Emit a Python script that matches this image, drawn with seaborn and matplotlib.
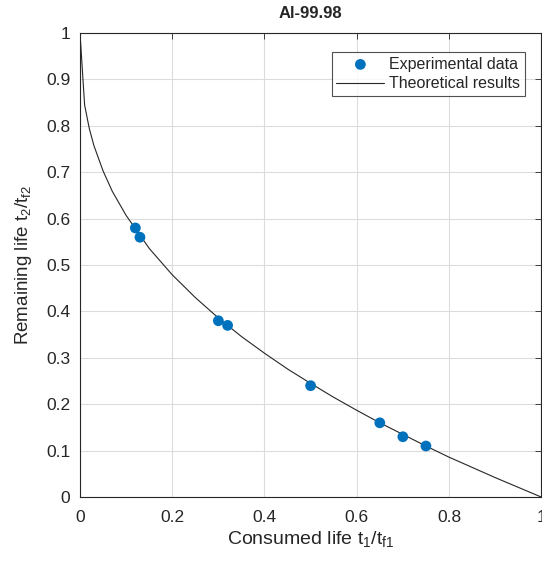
import matplotlib
matplotlib.use('Agg')
import matplotlib.pyplot as plt
import seaborn as sns
import numpy as np
import pandas as pd
from matplotlib.ticker import FuncFormatter

# experimental points
exp_x = [0.12, 0.13, 0.30, 0.32, 0.50, 0.65, 0.70, 0.75]
exp_y = [0.58, 0.56, 0.38, 0.37, 0.24, 0.16, 0.13, 0.11]

# theoretical curve
theo_x = [0.0, 0.01, 0.02, 0.03, 0.05, 0.07, 0.10, 0.15, 0.20, 0.25, 0.30, 0.35,
          0.40, 0.45, 0.50, 0.55, 0.60, 0.65, 0.70, 0.75, 0.80, 0.85, 0.90, 0.95, 1.0]
theo_y = [1.0, 0.845, 0.795, 0.758, 0.703, 0.659, 0.607, 0.536, 0.479, 0.430, 0.386, 0.346,
          0.310, 0.276, 0.245, 0.215, 0.187, 0.160, 0.135, 0.110, 0.086, 0.064, 0.042, 0.021, 0.0]

sns.set_style('white')
plt.rcParams['font.family'] = ['Liberation Sans', 'DejaVu Sans']
plt.rcParams['mathtext.fontset'] = 'custom'
plt.rcParams['mathtext.rm'] = 'Liberation Sans'
plt.rcParams['mathtext.it'] = 'Liberation Sans'
plt.rcParams['mathtext.default'] = 'regular'

fig = plt.figure(figsize=(5.42, 5.61), dpi=100)
ax = fig.add_axes([0.1476, 0.114, 0.851, 0.827])

df_exp = pd.DataFrame({'x': exp_x, 'y': exp_y})
df_theo = pd.DataFrame({'x': theo_x, 'y': theo_y})

sns.lineplot(data=df_theo, x='x', y='y', ax=ax, color='#262626', linewidth=0.8,
             sort=False, label='Theoretical results', zorder=2)
sns.scatterplot(data=df_exp, x='x', y='y', ax=ax, color='#0072BD', s=60,
                edgecolor='none', label='Experimental data', zorder=3)

ax.set_xlim(0, 1)
ax.set_ylim(0, 1)
ax.set_xticks(np.arange(0, 1.01, 0.2))
ax.set_yticks(np.arange(0, 1.01, 0.1))
ax.xaxis.set_major_formatter(FuncFormatter(lambda v, p: '%g' % round(v, 2)))
ax.yaxis.set_major_formatter(FuncFormatter(lambda v, p: '%g' % round(v, 2)))
ax.grid(True, color='#dcdcdc', linewidth=0.8)
ax.set_axisbelow(True)
ax.tick_params(direction='in', top=True, right=True, length=4, width=0.6,
               labelsize=12.5, colors='#262626')
ax.tick_params(axis='x', pad=9)
ax.tick_params(axis='y', pad=7)
for s in ax.spines.values():
    s.set_color('#262626')
    s.set_linewidth(0.8)

ax.set_xlabel('Consumed life t$_{1}$/t$_{f1}$', fontsize=14, color='#262626', labelpad=3)
ax.set_ylabel('Remaining life t$_{2}$/t$_{f2}$', fontsize=13.5, color='#262626', labelpad=9)
ax.set_title('Al-99.98', fontsize=12, fontweight='bold', pad=11)

h, l = ax.get_legend_handles_labels()
leg = ax.legend(h[::-1], l[::-1], loc='upper right', bbox_to_anchor=(0.975, 0.97),
                fontsize=11.5, frameon=True, fancybox=False, edgecolor='#262626',
                handlelength=3.0, handletextpad=0.3, borderpad=0.3, labelspacing=0.3,
                borderaxespad=0.3)
leg.get_frame().set_linewidth(0.8)

fig.savefig('out.png', dpi=100)
